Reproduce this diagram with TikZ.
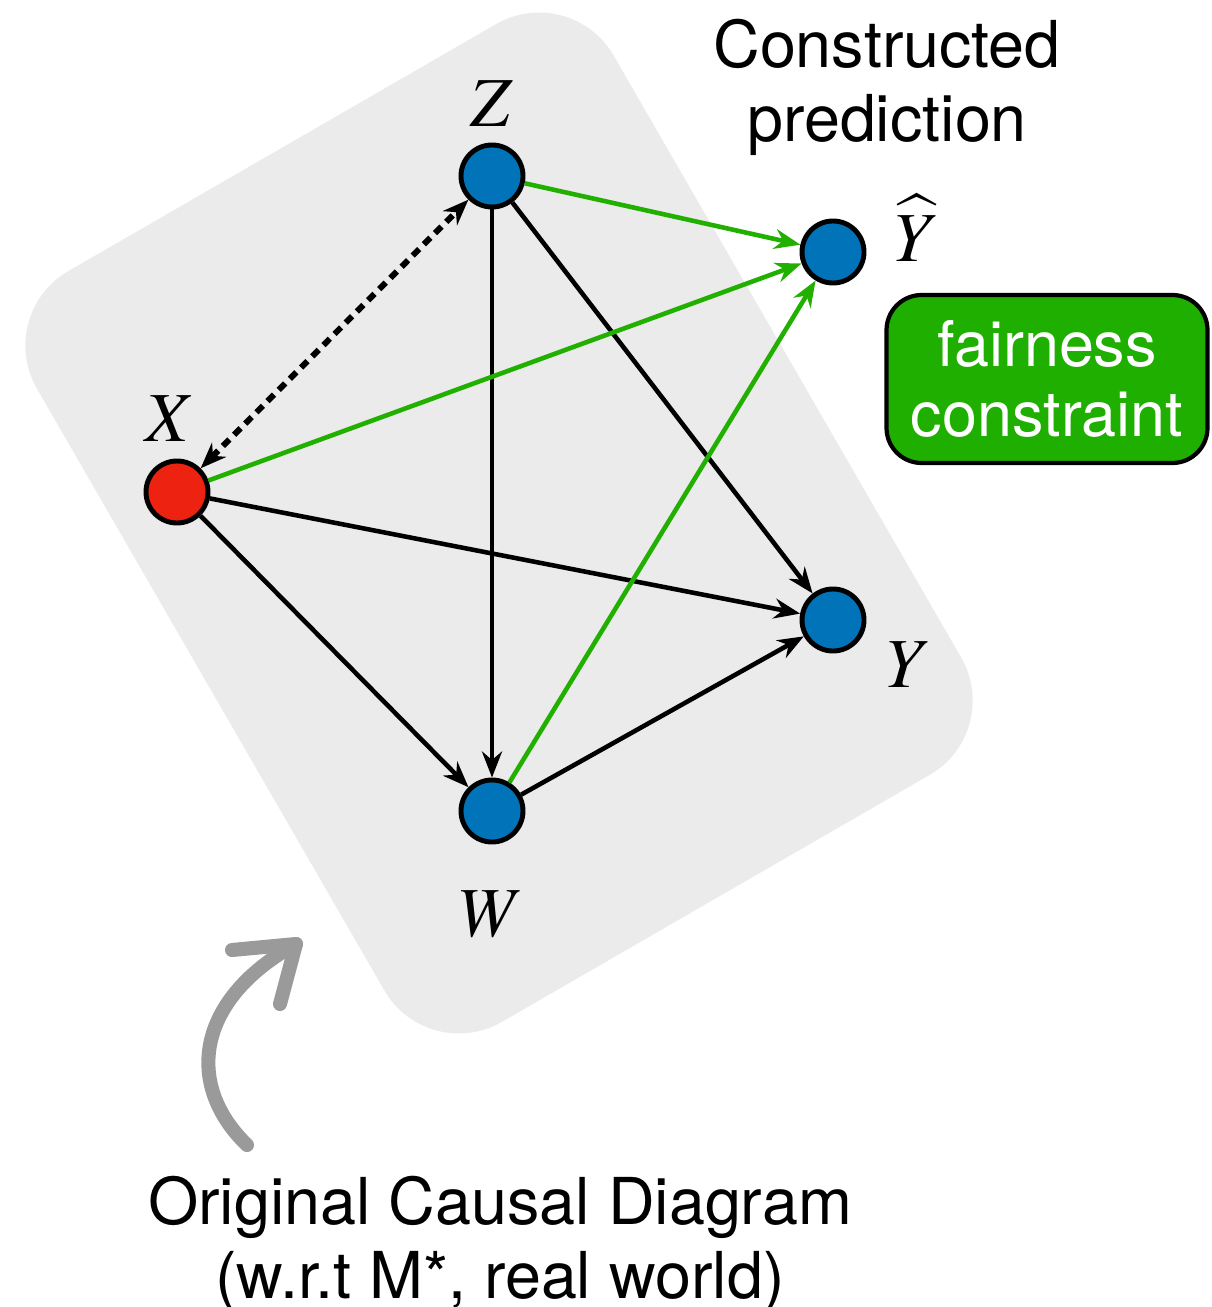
\documentclass[tikz,border=0pt]{standalone}
\usepackage{mathptmx}
\usepackage{fontspec}
\setmainfont{Liberation Serif}
\newfontfamily\helv{TeX Gyre Heros}
\usetikzlibrary{arrows.meta,positioning}
\definecolor{nodeblue}{HTML}{0073B9}
\definecolor{nodered}{HTML}{EE2211}
\definecolor{fairgreen}{HTML}{22B000}
\definecolor{boxgreen}{HTML}{1FAF00}
\definecolor{panelgray}{HTML}{EBEBEB}
\definecolor{sketchgray}{HTML}{9A9A9A}

\begin{document}
\begin{tikzpicture}[
  x=0.1mm, y=-0.1mm,
  var/.style={circle, draw=black, line width=1.4pt, fill=nodeblue,
              minimum size=6.2mm, inner sep=0pt},
  treat/.style={var, fill=nodered},
  lab/.style={inner sep=0pt, font=\fontsize{20}{24}\selectfont},
  caption/.style={inner sep=0pt, align=center, font=\helv\fontsize{18.4}{21.3}\selectfont},
  fair/.style={draw=black, line width=1.2pt, fill=boxgreen, rounded corners=10pt,
               text=white, align=center, inner sep=0pt,
               minimum width=32.1mm, minimum height=16.8mm,
               font=\helv\fontsize{17.9}{20}\selectfont},
  arr/.style={-{Stealth[length=2.6mm, width=2mm]}, line width=1.3pt},
  garr/.style={arr, draw=fairgreen},
  conf/.style={{Stealth[length=2.6mm, width=2mm]}-{Stealth[length=2.6mm, width=2mm]},
               line width=1.7pt, dash pattern=on 2.6pt off 1.9pt},
  sketch/.style={draw=sketchgray, line width=4pt, line cap=round, line join=round}
]
\useasboundingbox (0,0) rectangle (1212,1307);

% gray panel behind the model
\node[fill=panelgray, rotate=30, minimum width=66.6mm, minimum height=86.7mm,
      rounded corners=8.6mm, inner sep=0pt] (panel) at (499,523) {};

% variables
\node[var] (z) at (492,176) {};
\node[var] (yhat) at (833,252) {};
\node[treat] (x) at (177,492) {};
\node[var] (y) at (833,620) {};
\node[var] (w) at (492,811) {};

\node[lab, above=1.5mm of z] (zl) {$Z$};
\node[lab, above=1.6mm of x, xshift=-0.7mm] (xl) {$X$};
\node[lab, below=4.6mm of w] (wl) {$W$};
\node[lab, right=2mm of y, yshift=-4.5mm] (yl) {$Y$};
\node[lab, right=2.8mm of yhat, yshift=2.4mm] (yhatl) {$\widehat{Y}$};

% edges
\draw[arr] (z) -- (w);
\draw[arr] (z) -- (y);
\draw[arr] (x) -- (y);
\draw[arr] (x) -- (w);
\draw[arr] (w) -- (y);
\draw[garr] (z) -- (yhat);
\draw[garr] (x) -- (yhat);
\draw[garr] (w) -- (yhat);
\draw[conf] (x) -- (z);

% texts
\node[caption, anchor=north] (pred) at (887,18) {Constructed\\prediction};
\node[fair] (fc) at (1047,379) {fairness\\constraint};
\node[caption, anchor=north] (orig) at (500,1175) {Original Causal Diagram\\(w.r.t M*, real world)};

% hand drawn arrow
\coordinate (s0) at (247,1145);
\coordinate (s1) at (296,944);
\draw[sketch] (s0) .. controls (185,1085) and (195,1000) .. (s1);
\draw[sketch] (232,950) -- (s1) -- (280,1004);
\end{tikzpicture}
\end{document}
